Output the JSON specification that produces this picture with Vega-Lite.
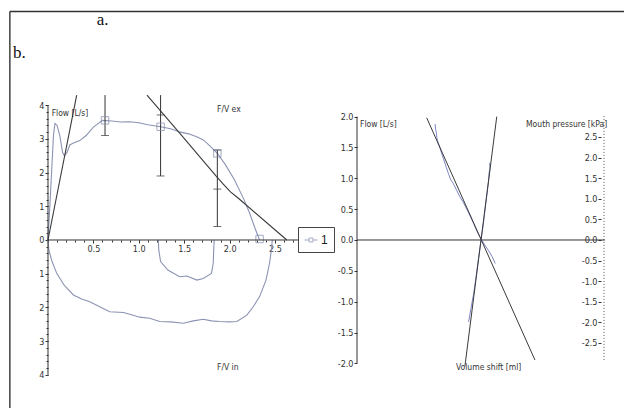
{
  "$schema": "https://vega.github.io/schema/vega-lite/v6.json",
  "width": 624,
  "height": 408,
  "padding": 0,
  "autosize": {"type": "none"},
  "background": "white",
  "config": {
    "view": {"stroke": null},
    "font": "Liberation Sans Narrow, DejaVu Sans Condensed, Liberation Sans, sans-serif",
    "axis": {
      "labelFont": "Liberation Sans Narrow, DejaVu Sans Condensed, Liberation Sans, sans-serif",
      "labelFontSize": 9,
      "labelColor": "#333",
      "tickColor": "#333",
      "domain": false,
      "grid": false,
      "title": null
    }
  },
  "datasets": {
    "lp_frame": [
      {"v": -0.42, "f": 6.78, "v2": 6.45, "f2": 6.78},
      {"v": -0.42, "f": 6.78, "v2": -0.42, "f2": -5.2}
    ],
    "lp_title": [
      {"v": 0.536, "f": 6.52, "t": "a."},
      {"v": -0.385, "f": 5.55, "t": "b."}
    ],
    "lp_axes": [
      {"v": 0, "f": -4, "v2": 0, "f2": 4},
      {"v": 0, "f": 0, "v2": 3.0, "f2": 0}
    ],
    "lp_curves": [
      {"s": "ex", "v": 0, "f": 0}, {"s": "ex", "v": 0.03, "f": 1.5}, {"s": "ex", "v": 0.06, "f": 3.1}, {"s": "ex", "v": 0.077, "f": 3.46},
      {"s": "ex", "v": 0.1, "f": 3.4}, {"s": "ex", "v": 0.13, "f": 3.1}, {"s": "ex", "v": 0.16, "f": 2.6}, {"s": "ex", "v": 0.18, "f": 2.5},
      {"s": "ex", "v": 0.21, "f": 2.6}, {"s": "ex", "v": 0.24, "f": 2.82}, {"s": "ex", "v": 0.28, "f": 2.88}, {"s": "ex", "v": 0.35, "f": 2.95},
      {"s": "ex", "v": 0.42, "f": 3.1}, {"s": "ex", "v": 0.5, "f": 3.35}, {"s": "ex", "v": 0.6, "f": 3.55}, {"s": "ex", "v": 0.7, "f": 3.53},
      {"s": "ex", "v": 0.8, "f": 3.5}, {"s": "ex", "v": 0.9, "f": 3.51}, {"s": "ex", "v": 1.0, "f": 3.48}, {"s": "ex", "v": 1.1, "f": 3.42},
      {"s": "ex", "v": 1.24, "f": 3.36}, {"s": "ex", "v": 1.35, "f": 3.3}, {"s": "ex", "v": 1.46, "f": 3.2}, {"s": "ex", "v": 1.55, "f": 3.15},
      {"s": "ex", "v": 1.65, "f": 3.05}, {"s": "ex", "v": 1.71, "f": 2.97}, {"s": "ex", "v": 1.78, "f": 2.8}, {"s": "ex", "v": 1.865, "f": 2.57},
      {"s": "ex", "v": 1.95, "f": 2.25}, {"s": "ex", "v": 2.05, "f": 1.8}, {"s": "ex", "v": 2.15, "f": 1.25}, {"s": "ex", "v": 2.22, "f": 0.8},
      {"s": "ex", "v": 2.28, "f": 0.35}, {"s": "ex", "v": 2.33, "f": 0.0},
      {"s": "in", "v": 0, "f": 0}, {"s": "in", "v": 0.01, "f": -0.3}, {"s": "in", "v": 0.04, "f": -0.6}, {"s": "in", "v": 0.096, "f": -0.99},
      {"s": "in", "v": 0.18, "f": -1.35}, {"s": "in", "v": 0.28, "f": -1.63}, {"s": "in", "v": 0.37, "f": -1.75}, {"s": "in", "v": 0.46, "f": -1.83},
      {"s": "in", "v": 0.57, "f": -1.98}, {"s": "in", "v": 0.68, "f": -2.13}, {"s": "in", "v": 0.83, "f": -2.15}, {"s": "in", "v": 0.92, "f": -2.22},
      {"s": "in", "v": 1.01, "f": -2.29}, {"s": "in", "v": 1.12, "f": -2.32}, {"s": "in", "v": 1.23, "f": -2.42}, {"s": "in", "v": 1.35, "f": -2.43},
      {"s": "in", "v": 1.49, "f": -2.47}, {"s": "in", "v": 1.6, "f": -2.4}, {"s": "in", "v": 1.71, "f": -2.35}, {"s": "in", "v": 1.8, "f": -2.4},
      {"s": "in", "v": 1.89, "f": -2.42}, {"s": "in", "v": 2.0, "f": -2.43}, {"s": "in", "v": 2.08, "f": -2.42}, {"s": "in", "v": 2.19, "f": -2.23},
      {"s": "in", "v": 2.26, "f": -1.98}, {"s": "in", "v": 2.33, "f": -1.68}, {"s": "in", "v": 2.4, "f": -1.2}, {"s": "in", "v": 2.44, "f": -0.69},
      {"s": "in", "v": 2.46, "f": -0.3}, {"s": "in", "v": 2.47, "f": 0.0},
      {"s": "in2", "v": 1.215, "f": 0}, {"s": "in2", "v": 1.22, "f": -0.3}, {"s": "in2", "v": 1.24, "f": -0.64}, {"s": "in2", "v": 1.32, "f": -0.89},
      {"s": "in2", "v": 1.45, "f": -1.09}, {"s": "in2", "v": 1.53, "f": -1.07}, {"s": "in2", "v": 1.64, "f": -1.19}, {"s": "in2", "v": 1.71, "f": -1.14},
      {"s": "in2", "v": 1.8, "f": -0.99}, {"s": "in2", "v": 1.82, "f": -0.69}, {"s": "in2", "v": 1.825, "f": -0.3}, {"s": "in2", "v": 1.83, "f": 0}
    ],
    "lp_fits": [
      {"s": "fit1", "v": 0, "f": 0}, {"s": "fit1", "v": 0.316, "f": 4.3},
      {"s": "fit2", "v": 1.09, "f": 4.3}, {"s": "fit2", "v": 1.45, "f": 3.17}, {"s": "fit2", "v": 1.85, "f": 1.9},
      {"s": "fit2", "v": 1.93, "f": 1.66}, {"s": "fit2", "v": 2.01, "f": 1.43}, {"s": "fit2", "v": 2.1, "f": 1.23}, {"s": "fit2", "v": 2.63, "f": 0}
    ],
    "lp_err": [
      {"v": 0.628, "f": 3.1, "f2": 4.3},
      {"v": 1.24, "f": 1.9, "f2": 4.3},
      {"v": 1.865, "f": 0.4, "f2": 2.67}
    ],
    "lp_caps": [
      {"v": 0.628, "f": 3.1},
      {"v": 1.24, "f": 3.71}, {"v": 1.24, "f": 1.9},
      {"v": 1.865, "f": 2.67}, {"v": 1.865, "f": 1.51}, {"v": 1.865, "f": 0.4}
    ],
    "lp_pts": [
      {"series": "1", "v": 0.628, "f": 3.55},
      {"series": "1", "v": 1.24, "f": 3.36},
      {"series": "1", "v": 1.865, "f": 2.57},
      {"series": "1", "v": 2.33, "f": 0.03}
    ],
    "lp_text": [
      {"v": 0.04, "f": 3.77, "t": "Flow [L/s]"},
      {"v": 1.861, "f": 3.89, "t": "F/V ex"},
      {"v": 1.861, "f": -3.77, "t": "F/V in"}
    ],
    "rp_axes": [
      {"u": -1, "f": 0, "v2": 1.0, "f2": 0},
      {"u": -1, "f": -2, "v2": -1, "f2": 2}
    ],
    "rp_fits": [
      {"s": "A", "u": -0.438, "f": 1.98}, {"s": "A", "u": 0.435, "f": -1.945},
      {"s": "B", "u": 0.127, "f": 2.0}, {"s": "B", "u": -0.13, "f": -2.05}
    ],
    "rp_traces": [
      {"s": "T1", "u": -0.37, "f": 1.88}, {"s": "T1", "u": -0.367, "f": 1.8}, {"s": "T1", "u": -0.36, "f": 1.74}, {"s": "T1", "u": -0.356, "f": 1.66},
      {"s": "T1", "u": -0.35, "f": 1.6}, {"s": "T1", "u": -0.335, "f": 1.52}, {"s": "T1", "u": -0.32, "f": 1.42}, {"s": "T1", "u": -0.3, "f": 1.3},
      {"s": "T1", "u": -0.28, "f": 1.18}, {"s": "T1", "u": -0.26, "f": 1.06}, {"s": "T1", "u": -0.245, "f": 0.98}, {"s": "T1", "u": -0.235, "f": 0.95},
      {"s": "T1", "u": -0.225, "f": 0.92}, {"s": "T1", "u": -0.215, "f": 0.88}, {"s": "T1", "u": -0.2, "f": 0.82}, {"s": "T1", "u": -0.17, "f": 0.7},
      {"s": "T1", "u": -0.14, "f": 0.6}, {"s": "T1", "u": -0.1, "f": 0.44}, {"s": "T1", "u": -0.06, "f": 0.27}, {"s": "T1", "u": -0.03, "f": 0.13},
      {"s": "T1", "u": 0.0, "f": 0.02}, {"s": "T1", "u": 0.03, "f": -0.08}, {"s": "T1", "u": 0.06, "f": -0.17}, {"s": "T1", "u": 0.09, "f": -0.27},
      {"s": "T1", "u": 0.115, "f": -0.38},
      {"s": "T2", "u": 0.07, "f": 1.25}, {"s": "T2", "u": 0.072, "f": 1.15}, {"s": "T2", "u": 0.066, "f": 1.1}, {"s": "T2", "u": 0.06, "f": 0.95},
      {"s": "T2", "u": 0.045, "f": 0.7}, {"s": "T2", "u": 0.03, "f": 0.45}, {"s": "T2", "u": 0.015, "f": 0.2}, {"s": "T2", "u": 0.0, "f": 0.0},
      {"s": "T2", "u": -0.02, "f": -0.3}, {"s": "T2", "u": -0.04, "f": -0.6}, {"s": "T2", "u": -0.06, "f": -0.88}, {"s": "T2", "u": -0.08, "f": -1.1},
      {"s": "T2", "u": -0.1, "f": -1.33}
    ],
    "rp_text": [
      {"u": -0.976, "f": 1.88, "t": "Flow [L/s]"},
      {"u": 0.363, "f": 1.88, "t": "Mouth pressure [kPa]"},
      {"u": -0.2016, "f": -2.058, "t": "Volume shift [ml]"}
    ],
    "pr_line": [
      {"u": 0.992, "p": -2.91, "u2": 0.992, "p2": 3.03}
    ]
  },
  "resolve": {
    "scale": {"x": "independent", "y": "independent"},
    "axis": {"x": "independent", "y": "independent"}
  },
  "layer": [
    {
      "encoding": {
        "x": {"field": "v", "type": "quantitative",
          "scale": {"domain": [-0.5286, 6.3436], "nice": false, "zero": false},
          "axis": {"orient": "bottom", "offset": -168, "values": [0.5, 1, 1.5, 2, 2.5, 3], "format": ".1f", "tickSize": 3, "labelPadding": 1}},
        "y": {"field": "f", "type": "quantitative",
          "scale": {"domain": [-4.9852, 7.1217], "nice": false, "zero": false},
          "axis": {"orient": "left", "offset": -48, "values": [-4, -3, -2, -1, 0, 1, 2, 3, 4], "labelExpr": "abs(datum.value)", "tickSize": 3, "labelPadding": 1}}
      },
      "layer": [
        {
          "data": {"name": "lp_frame"},
          "mark": {"type": "rule", "color": "#333", "strokeWidth": 1.4},
          "encoding": {"x2": {"field": "v2"}, "y2": {"field": "f2"}}
        },
        {
          "data": {"name": "lp_title"},
          "mark": {"type": "text", "align": "left", "baseline": "middle", "font": "Liberation Serif, DejaVu Serif, serif", "fontSize": 17, "color": "#111"},
          "encoding": {"text": {"field": "t"}}
        },
        {
          "data": {"name": "lp_curves"},
          "mark": {"type": "line", "color": "#8c93b3", "strokeWidth": 1.1},
          "encoding": {"detail": {"field": "s"}, "order": {"value": null}}
        },
        {
          "data": {"name": "lp_fits"},
          "mark": {"type": "line", "color": "#3a3a3a", "strokeWidth": 1.1},
          "encoding": {"detail": {"field": "s"}, "order": {"value": null}}
        },
        {
          "data": {"name": "lp_err"},
          "mark": {"type": "rule", "color": "#333", "strokeWidth": 1},
          "encoding": {"y2": {"field": "f2"}}
        },
        {
          "data": {"name": "lp_caps"},
          "mark": {"type": "tick", "orient": "horizontal", "size": 8, "thickness": 1, "color": "#333"}
        },
        {
          "data": {"name": "lp_pts"},
          "mark": {"type": "point", "shape": "square", "filled": false, "size": 55, "strokeWidth": 1},
          "encoding": {
            "stroke": {"field": "series", "type": "nominal", "scale": {"range": ["#7f87aa"]},
              "legend": {"title": null, "orient": "none", "legendX": 298, "legendY": 227, "strokeColor": "#444", "fillColor": "white", "padding": 6,
                "symbolType": "M-1,0H-0.3M0.3,0H1M-0.3,-0.3H0.3V0.3H-0.3Z",
                "symbolSize": 169, "symbolStrokeWidth": 1, "symbolFillColor": "transparent", "labelFontSize": 12, "labelColor": "#222", "labelOffset": 3,
                "labelFont": "Liberation Sans, sans-serif",
                "encode": {"symbols": {"update": {"shape": {"value": "M-1,0H-0.3M0.3,0H1M-0.3,-0.3H0.3V0.3H-0.3Z"}, "size": {"value": 169}, "fill": {"value": "transparent"}, "stroke": {"value": "#5d6585"}}}}}}
          }
        },
        {
          "data": {"name": "lp_text"},
          "mark": {"type": "text", "align": "left", "baseline": "middle", "fontSize": 8.5, "color": "#333"},
          "encoding": {"text": {"field": "t"}}
        }
      ]
    },
    {
      "data": {"name": "lp_axes"},
      "mark": {"type": "rule", "color": "#333", "strokeWidth": 1},
      "encoding": {
        "x": {"field": "v", "type": "quantitative",
          "scale": {"domain": [-0.5286, 6.3436], "nice": false, "zero": false},
          "axis": {"orient": "bottom", "offset": -168, "labels": false, "tickSize": 2,
            "values": [0, 0.1, 0.2, 0.3, 0.4, 0.5, 0.6, 0.7, 0.8, 0.9, 1, 1.1, 1.2, 1.3, 1.4, 1.5, 1.6, 1.7, 1.8, 1.9, 2, 2.1, 2.2, 2.3, 2.4, 2.5, 2.6, 2.7, 2.8, 2.9, 3]}},
        "x2": {"field": "v2"},
        "y": {"field": "f", "type": "quantitative",
          "scale": {"domain": [-4.9852, 7.1217], "nice": false, "zero": false},
          "axis": {"orient": "left", "offset": -48, "labels": false, "tickSize": 2,
            "values": [-4, -3.8, -3.6, -3.4, -3.2, -3, -2.8, -2.6, -2.4, -2.2, -2, -1.8, -1.6, -1.4, -1.2, -1, -0.8, -0.6, -0.4, -0.2, 0, 0.2, 0.4, 0.6, 0.8, 1, 1.2, 1.4, 1.6, 1.8, 2, 2.2, 2.4, 2.6, 2.8, 3, 3.2, 3.4, 3.6, 3.8, 4]}},
        "y2": {"field": "f2"}
      }
    },
    {
      "encoding": {
        "x": {"field": "u", "type": "quantitative",
          "scale": {"domain": [-3.879, 1.1532], "nice": false, "zero": false}, "axis": null},
        "y": {"field": "f", "type": "quantitative",
          "scale": {"domain": [-2.7229, 3.8898], "nice": false, "zero": false},
          "axis": {"orient": "left", "offset": -357, "values": [-2, -1.5, -1, -0.5, 0, 0.5, 1, 1.5, 2], "labelExpr": "replace(format(datum.value, '.1f'), '−', '-')", "tickSize": 3, "labelPadding": 1}}
      },
      "layer": [
        {
          "data": {"name": "rp_axes"},
          "mark": {"type": "rule", "color": "#333", "strokeWidth": 1},
          "encoding": {"x2": {"field": "v2"}, "y2": {"field": "f2"}}
        },
        {
          "data": {"name": "rp_traces"},
          "mark": {"type": "line", "color": "#7d86c4", "strokeWidth": 1},
          "encoding": {"detail": {"field": "s"}, "order": {"value": null}}
        },
        {
          "data": {"name": "rp_fits"},
          "mark": {"type": "line", "color": "#3a3a3a", "strokeWidth": 1},
          "encoding": {"detail": {"field": "s"}, "order": {"value": null}}
        },
        {
          "data": {"name": "rp_text"},
          "mark": {"type": "text", "align": "left", "baseline": "middle", "fontSize": 8.5, "color": "#333"},
          "encoding": {"text": {"field": "t"}}
        }
      ]
    },
    {
      "data": {"name": "pr_line"},
      "mark": {"type": "rule", "color": "#555", "strokeWidth": 1, "strokeDash": [1, 2]},
      "encoding": {
        "x": {"field": "u", "type": "quantitative",
          "scale": {"domain": [-3.879, 1.1532], "nice": false, "zero": false}, "axis": null},
        "x2": {"field": "u2"},
        "y": {"field": "p", "type": "quantitative",
          "scale": {"domain": [-4.0777, 5.8252], "nice": false, "zero": false},
          "axis": {"orient": "left", "offset": -601, "values": [-2.5, -2, -1.5, -1, -0.5, 0, 0.5, 1, 1.5, 2, 2.5], "labelExpr": "replace(format(datum.value, '.1f'), '−', '-')", "tickSize": 3, "labelPadding": 1}},
        "y2": {"field": "p2"}
      }
    }
  ]
}
